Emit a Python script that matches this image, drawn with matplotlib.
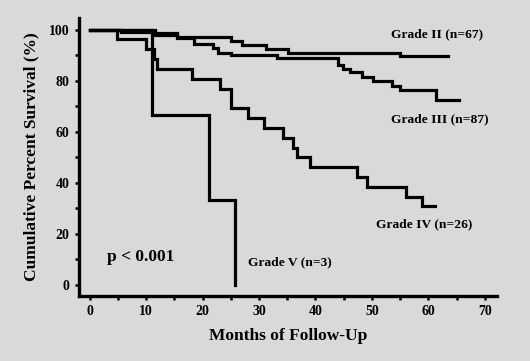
import matplotlib
matplotlib.use("Agg")
import matplotlib.pyplot as plt
from matplotlib.ticker import MultipleLocator

# Kaplan-Meier curves (months, % survival), step 'post'
g2_t = [0, 11.5, 15.5, 25.0, 27.0, 31.3, 35.2, 55.0, 63.5]
g2_s = [100, 98.5, 97.0, 95.5, 94.0, 92.5, 91.0, 89.5, 89.5]

g3_t = [0, 5.5, 11.5, 15.5, 18.4, 21.9, 22.8, 25.0, 33.1, 44.0, 44.9, 46.1,
        48.2, 50.2, 53.5, 55.0, 61.3, 65.5]
g3_s = [100, 98.9, 97.7, 96.5, 94.4, 92.8, 90.8, 90.0, 88.7, 86.2, 84.4, 83.2,
        81.5, 79.8, 78.0, 76.5, 72.3, 72.3]

g4_t = [0, 4.8, 10.0, 11.4, 12.0, 18.2, 23.1, 25.0, 28.1, 30.9, 34.2, 36.1,
        36.8, 39.1, 47.3, 49.2, 56.1, 58.8, 61.2]
g4_s = [100, 96.2, 92.3, 88.5, 84.6, 80.8, 76.9, 69.2, 65.4, 61.5, 57.7, 53.8,
        50.0, 46.2, 42.3, 38.5, 34.6, 30.8, 30.8]

g5_t = [0, 11.1, 21.2, 25.8, 25.8]
g5_s = [100, 66.7, 33.3, 0, 0]

labels = ["Grade II (n=67)", "Grade III (n=87)", "Grade IV (n=26)", "Grade V (n=3)"]
x_ticks = [0, 10, 20, 30, 40, 50, 60, 70]
y_ticks = [0, 20, 40, 60, 80, 100]

bg = "#d9d9d9"
serif = ["Liberation Serif", "DejaVu Serif"]
plt.rcParams["font.family"] = serif
plt.rcParams["font.weight"] = "bold"

fig = plt.figure(figsize=(5.30, 3.61), dpi=100, facecolor=bg)
ax = fig.add_axes([0.1496, 0.181, 0.937 - 0.1496, 0.950 - 0.181])
ax.set_facecolor(bg)

lw = 2.3
for t, s in [(g2_t, g2_s), (g3_t, g3_s), (g4_t, g4_s), (g5_t, g5_s)]:
    ax.step(t, s, where="post", color="black", lw=lw, solid_joinstyle="miter")

ax.set_xlim(-1.86, 72.1)
ax.set_ylim(-4.2, 104.5)
ax.set_xticks(x_ticks)
ax.set_yticks(y_ticks)
ax.xaxis.set_minor_locator(MultipleLocator(5))
ax.yaxis.set_minor_locator(MultipleLocator(10))
for sp in ["top", "right"]:
    ax.spines[sp].set_visible(False)
for sp in ["left", "bottom"]:
    ax.spines[sp].set_linewidth(2.4)
ax.tick_params(which="both", direction="out", width=1.8, length=3, color="black")
ax.tick_params(axis="both", which="major", labelsize=10, pad=4)
for lab in ax.get_xticklabels() + ax.get_yticklabels():
    lab.set_fontweight("bold")

ax.set_xlabel("Months of Follow-Up", fontsize=12.5, fontweight="bold", labelpad=7)
ax.set_ylabel("Cumulative Percent Survival (%)", fontsize=12.5, fontweight="bold", labelpad=7)

ax.text(61.6, 98.0, labels[0], fontsize=9.7, fontweight="bold", ha="center", va="center")
ax.text(62.0, 65.0, labels[1], fontsize=9.7, fontweight="bold", ha="center", va="center")
ax.text(59.2, 23.8, labels[2], fontsize=9.7, fontweight="bold", ha="center", va="center")
ax.text(35.5, 9.0, labels[3], fontsize=9.7, fontweight="bold", ha="center", va="center")
ax.text(9.0, 11.0, "p < 0.001", fontsize=12.5, fontweight="bold", ha="center", va="center")

fig.savefig("out.png", dpi=100, facecolor=bg)
